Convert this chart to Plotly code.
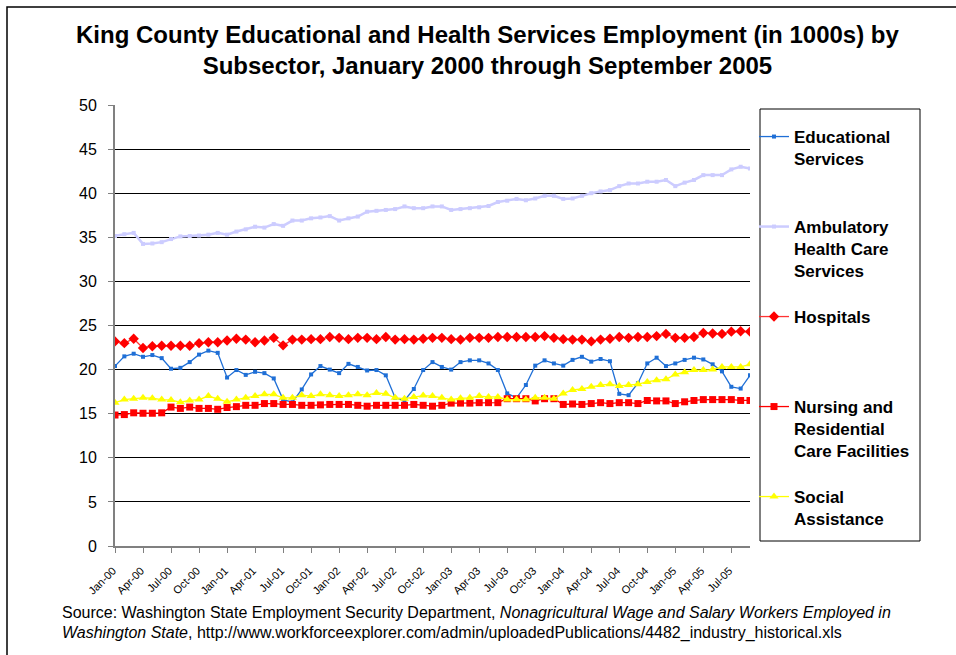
import pandas as pd
import plotly.graph_objects as go

# Monthly categories, January 2000 through September 2005
months = list(pd.date_range("2000-01-01", periods=69, freq="MS").strftime("%b-%y"))
tick_labels = months[::3]

# Employment by subsector, in thousands
educational = [20.4, 21.5, 21.8, 21.45, 21.65, 21.3, 20.1, 20.2, 20.85, 21.7, 22.15, 21.9,
               19.1, 19.95, 19.4, 19.75, 19.6, 19.0, 16.6, 16.3, 17.75, 19.45, 20.4, 20.0,
               19.6, 20.65, 20.3, 19.9, 19.95, 19.35, 16.8, 16.5, 17.8, 19.95, 20.85, 20.3,
               20.0, 20.85, 21.05, 21.05, 20.7, 19.95, 17.3, 16.8, 18.25, 20.45, 21.05, 20.7,
               20.45, 21.1, 21.45, 20.9, 21.2, 20.95, 17.25, 17.1, 18.45, 20.7, 21.35, 20.4,
               20.7, 21.1, 21.35, 21.15, 20.6, 19.8, 18.05, 17.85, 19.35]
ambulatory = [35.16, 35.35, 35.5, 34.25, 34.3, 34.45, 34.8, 35.1, 35.15, 35.2, 35.3, 35.5,
              35.3, 35.65, 35.9, 36.2, 36.1, 36.5, 36.3, 36.9, 36.9, 37.15, 37.25, 37.4,
              36.9, 37.15, 37.35, 37.9, 38.0, 38.1, 38.2, 38.5, 38.3, 38.3, 38.5, 38.5,
              38.1, 38.2, 38.3, 38.4, 38.55, 39.0, 39.15, 39.35, 39.2, 39.4, 39.7, 39.7,
              39.35, 39.4, 39.7, 40.0, 40.2, 40.35, 40.8, 41.1, 41.1, 41.3, 41.3, 41.5,
              40.8, 41.2, 41.5, 42.05, 42.05, 42.05, 42.7, 43.0, 42.8]
hospitals = [23.2, 23.0, 23.5, 22.45, 22.65, 22.7, 22.7, 22.7, 22.7, 23.0, 23.1, 23.1,
             23.3, 23.5, 23.4, 23.1, 23.3, 23.6, 22.75, 23.4, 23.4, 23.45, 23.45, 23.7,
             23.6, 23.45, 23.6, 23.6, 23.45, 23.7, 23.4, 23.45, 23.4, 23.5, 23.6, 23.6,
             23.45, 23.4, 23.6, 23.6, 23.6, 23.7, 23.7, 23.7, 23.7, 23.7, 23.8, 23.6,
             23.45, 23.4, 23.4, 23.2, 23.4, 23.5, 23.7, 23.6, 23.7, 23.7, 23.8, 24.05,
             23.6, 23.6, 23.7, 24.15, 24.1, 24.05, 24.3, 24.35, 24.3]
nursing = [14.85, 14.9, 15.1, 15.05, 15.05, 15.1, 15.75, 15.6, 15.75, 15.6, 15.6, 15.5,
           15.7, 15.8, 15.95, 15.95, 16.15, 16.15, 16.05, 16.05, 15.95, 15.95, 16.0, 16.05,
           16.05, 16.05, 15.95, 15.85, 15.95, 15.95, 15.95, 15.95, 16.05, 15.95, 15.85, 15.95,
           16.2, 16.2, 16.2, 16.25, 16.25, 16.25, 16.7, 16.7, 16.7, 16.45, 16.7, 16.7,
           16.05, 16.1, 16.05, 16.15, 16.25, 16.15, 16.25, 16.25, 16.15, 16.5, 16.45, 16.45,
           16.15, 16.35, 16.5, 16.6, 16.6, 16.6, 16.6, 16.5, 16.5]
social = [16.25, 16.6, 16.7, 16.8, 16.75, 16.6, 16.55, 16.3, 16.5, 16.6, 17.0, 16.7,
          16.35, 16.6, 16.8, 17.0, 17.2, 17.2, 16.8, 16.8, 17.1, 17.0, 17.2, 17.1,
          17.0, 17.1, 17.2, 17.1, 17.35, 17.25, 16.8, 16.7, 16.9, 17.05, 17.0, 16.8,
          16.6, 16.75, 16.8, 17.0, 16.9, 16.9, 16.6, 16.6, 16.6, 16.8, 16.8, 16.7,
          17.3, 17.7, 17.8, 18.05, 18.25, 18.35, 18.15, 18.25, 18.35, 18.6, 18.8, 18.9,
          19.45, 19.7, 19.95, 19.95, 20.0, 20.3, 20.3, 20.3, 20.6]

W, H = 956, 655
L, R, T, B = 115, 750, 105, 546  # plot area in pixels


def px(x):
    return (x - L) / (R - L)


def py(y):
    return (B - y) / (B - T)


ARIAL = "Liberation Sans, Arial, sans-serif"

series = [
    ("Educational<br>Services", educational,
     dict(color="#1F6FD6", width=1.3), dict(symbol="square", size=4, color="#1F6FD6")),
    ("Ambulatory<br>Health Care<br>Services", ambulatory,
     dict(color="#CCCCFF", width=2.5), dict(symbol="square", size=4, color="#CCCCFF")),
    ("Hospitals", hospitals,
     dict(color="#FF3333", width=1.3), dict(symbol="diamond", size=8, color="#FF0000")),
    ("Nursing and<br>Residential<br>Care Facilities", nursing,
     dict(color="#FF0000", width=1.3), dict(symbol="square", size=7, color="#FF0000")),
    ("Social<br>Assistance", social,
     dict(color="#FFFF00", width=1.3), dict(symbol="triangle-up", size=8, color="#FFFF00")),
]

fig = go.Figure()
legend_ids = ["legend", "legend2", "legend3", "legend4", "legend5"]
for (name, vals, line, marker), lid in zip(series, legend_ids):
    fig.add_trace(go.Scatter(x=months, y=vals, name=name, mode="lines+markers",
                             line=line, marker=marker, legend=lid))

# One legend per series, stacked in equal slots inside a framed box
slot_tops = [119, 209, 299, 389, 479]
for lid, top in zip(legend_ids, slot_tops):
    fig.update_layout({lid: dict(x=px(754), y=py(top), xanchor="left", yanchor="top",
                                 bgcolor="rgba(0,0,0,0)", borderwidth=0, valign="top",
                                 font=dict(family=ARIAL, size=17, color="#000000",
                                           weight="bold"),
                                 itemclick=False, itemdoubleclick=False)})

shapes = [
    # legend frame
    dict(type="rect", xref="paper", yref="paper", x0=px(760), x1=px(920),
         y0=py(541), y1=py(109), line=dict(color="#000000", width=1)),
    # chart frame
    dict(type="rect", xref="paper", yref="paper", x0=px(7), x1=px(970),
         y0=py(670), y1=py(7), line=dict(color="#000000", width=1.5)),
]

annotations = [
    dict(xref="paper", yref="paper", x=px(488), y=py(19), xanchor="center", yanchor="top",
         text="<b>King County Educational and Health Services Employment (in 1000s) by<br>"
              "Subsector, January 2000 through September 2005</b>",
         showarrow=False, font=dict(family=ARIAL, size=24, color="#000000")),
    dict(xref="paper", yref="paper", x=px(60), y=py(602), xanchor="left", yanchor="top",
         text="Source: Washington State Employment Security Department, "
              "<i>Nonagricultural Wage and Salary Workers Employed in</i>",
         showarrow=False, align="left", font=dict(family=ARIAL, size=16, color="#000000")),
    dict(xref="paper", yref="paper", x=px(60), y=py(622), xanchor="left", yanchor="top",
         text="<i>Washington State</i>, "
              "http://www.workforceexplorer.com/admin/uploadedPublications/4482_industry_historical.xls",
         showarrow=False, align="left", font=dict(family=ARIAL, size=16, color="#000000")),
]

fig.update_layout(
    width=W, height=H,
    margin=dict(l=L, r=W - R, t=T, b=H - B, pad=0),
    paper_bgcolor="#FFFFFF", plot_bgcolor="#FFFFFF",
    shapes=shapes, annotations=annotations,
    showlegend=True,
    xaxis=dict(type="category", categoryorder="array", categoryarray=months,
               range=[0, len(months) - 1], tickvals=tick_labels, ticktext=tick_labels,
               tickangle=-45, tickfont=dict(family=ARIAL, size=11, color="#000000"),
               ticklabelstandoff=7, ticklabelshift=-2,
               showgrid=False, zeroline=False, showline=True, linecolor="#808080", linewidth=2,
               ticks="outside", ticklen=5, tickcolor="#808080", tickwidth=1),
    yaxis=dict(range=[0, 50], dtick=5, tickfont=dict(family=ARIAL, size=16, color="#000000"),
               showgrid=True, gridcolor="#000000", gridwidth=1, zeroline=False,
               showline=True, linecolor="#808080", linewidth=2,
               ticks="outside", ticklen=5, tickcolor="#808080", tickwidth=1,
               ticklabelstandoff=8),
)

fig.write_html("out.html")
